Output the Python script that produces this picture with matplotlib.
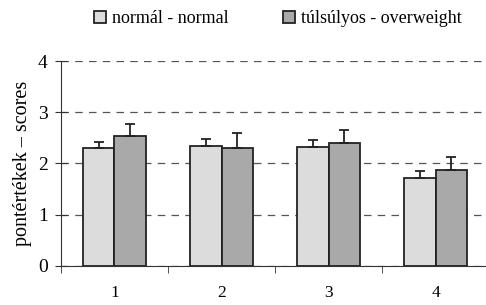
import matplotlib.pyplot as plt
import numpy as np

plt.rcParams['font.family'] = ['Liberation Serif', 'DejaVu Serif']

categories = ["1", "2", "3", "4"]
normal = [2.31, 2.35, 2.32, 1.72]
normal_err = [0.10, 0.13, 0.13, 0.14]
overweight = [2.54, 2.30, 2.40, 1.87]
overweight_err = [0.24, 0.29, 0.25, 0.26]

fig = plt.figure(figsize=(4.86, 3.05), dpi=100)
ax = fig.add_axes([0.1255, 0.128, 0.8807, 0.672])

x = np.arange(len(categories))
w = 0.29
b1 = ax.bar(x - w / 2, normal, w, color="#dcdcdc", edgecolor="#222222", linewidth=1.3,
            label="normál - normal", zorder=3)
b2 = ax.bar(x + w / 2, overweight, w, color="#a9a9a9", edgecolor="#222222", linewidth=1.3,
            label="túlsúlyos - overweight", zorder=3)
ax.errorbar(x - w / 2, normal, yerr=[np.zeros(4), normal_err], fmt="none",
            ecolor="#222222", elinewidth=1.3, capsize=3.5, capthick=1.3, zorder=4)
ax.errorbar(x + w / 2, overweight, yerr=[np.zeros(4), overweight_err], fmt="none",
            ecolor="#222222", elinewidth=1.3, capsize=3.5, capthick=1.3, zorder=4)

ax.set_xlim(-0.5, 3.5)
ax.set_ylim(0, 4)
ax.set_yticks([0, 1, 2, 3, 4])
ax.set_xticks(x)
ax.set_xticklabels(categories)
ax.set_xticks([-0.5, 0.5, 1.5, 2.5], minor=True)
ax.tick_params(axis="x", which="major", length=0, pad=14, labelsize=12.5)
ax.tick_params(axis="x", which="minor", length=5, direction="out", color="#333333")
ax.tick_params(axis="y", length=9, direction="inout", labelsize=14, pad=5, color="#333333")
for s in ["top", "right"]:
    ax.spines[s].set_visible(False)
ax.spines["left"].set_color("#333333")
ax.spines["bottom"].set_color("#333333")
ax.yaxis.grid(True, linestyle=(0, (6, 5)), color="#555555", linewidth=0.9)
ax.set_ylabel("pontértékek – scores", fontsize=14.5, labelpad=4)

fig.legend(handles=[b1, b2], loc="upper left", bbox_to_anchor=(0.16, 1.02), ncol=2,
           frameon=False, fontsize=13, handlelength=0.65, handleheight=0.65,
           columnspacing=3.0, handletextpad=0.35)

fig.savefig("out.png", dpi=100)
